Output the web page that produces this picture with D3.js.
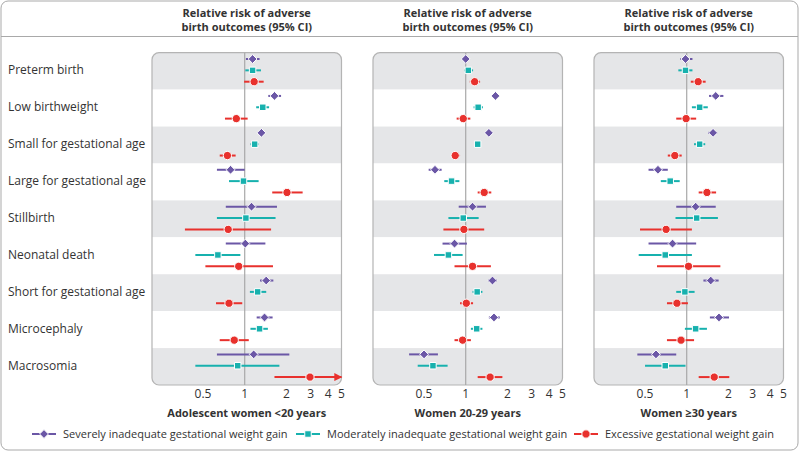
<!DOCTYPE html>
<html><head><meta charset="utf-8">
<script src="https://cdn.jsdelivr.net/npm/d3@7"></script>
<style>body{margin:0;background:#fff} text{font-family:"Open Sans",sans-serif;fill:#333}</style>
</head><body><svg id="c" width="800" height="452"></svg>
<script>
const categories = ["Preterm birth","Low birthweight","Small for gestational age","Large for gestational age","Stillbirth","Neonatal death","Short for gestational age","Microcephaly","Macrosomia"];
const groups = ["Adolescent women <20 years","Women 20-29 years","Women ≥30 years"];
const seriesNames = ["Severely inadequate gestational weight gain","Moderately inadequate gestational weight gain","Excessive gestational weight gain"];
const seriesColors = ["#6b57a6","#17b1ae","#e8312d"];
const seriesShapes = ["diamond","square","circle"];
const tickValues = [0.5,1,2,3,4,5];
const headerLines = ["Relative risk of adverse","birth outcomes (95% CI)"];
// [estimate, lower 95% CI, upper 95% CI] per category
const teenSevere   = [[1.14,1.02,1.28],[1.64,1.48,1.83],[1.32,1.28,1.36],[0.79,0.63,1.00],[1.12,0.73,1.71],[1.01,0.73,1.41],[1.43,1.29,1.61],[1.39,1.22,1.59],[1.16,0.63,2.10]];
const teenModerate = [[1.14,1.01,1.31],[1.35,1.21,1.50],[1.18,1.10,1.26],[0.98,0.77,1.26],[1.02,0.63,1.67],[0.64,0.44,0.93],[1.24,1.09,1.43],[1.28,1.10,1.47],[0.89,0.44,1.78]];
const teenExcess   = [[1.17,0.99,1.37],[0.87,0.72,1.05],[0.75,0.66,0.86],[2.02,1.58,2.62],[0.76,0.37,1.55],[0.905,0.52,1.60],[0.77,0.62,0.96],[0.84,0.66,1.07],[2.96,1.64,6.00]];
const midSevere    = [[1.00,0.98,1.02],[1.64,1.60,1.68],[1.47,1.43,1.52],[0.60,0.54,0.67],[1.12,0.89,1.40],[0.83,0.68,1.02],[1.56,1.45,1.68],[1.60,1.47,1.76],[0.50,0.39,0.63]];
const midModerate  = [[1.045,0.98,1.13],[1.23,1.14,1.33],[1.22,1.20,1.24],[0.79,0.70,0.90],[0.96,0.75,1.24],[0.75,0.59,0.95],[1.21,1.12,1.32],[1.20,1.09,1.32],[0.58,0.45,0.74]];
const midExcess    = [[1.16,1.07,1.27],[0.96,0.86,1.08],[0.84,0.79,0.91],[1.36,1.22,1.53],[0.97,0.69,1.36],[1.12,0.83,1.52],[1.01,0.91,1.13],[0.95,0.83,1.09],[1.50,1.22,1.84]];
const olderSevere  = [[0.98,0.90,1.10],[1.62,1.45,1.84],[1.55,1.43,1.66],[0.62,0.53,0.73],[1.16,0.84,1.62],[0.79,0.53,1.17],[1.49,1.32,1.70],[1.71,1.47,2.02],[0.60,0.44,0.84]];
const olderModerate= [[0.98,0.87,1.10],[1.24,1.09,1.42],[1.24,1.13,1.36],[0.76,0.65,0.89],[1.18,0.83,1.68],[0.70,0.45,1.09],[0.97,0.84,1.14],[1.16,0.97,1.40],[0.70,0.50,0.98]];
const olderExcess  = [[1.21,1.07,1.37],[0.99,0.84,1.17],[0.82,0.73,0.92],[1.40,1.22,1.63],[0.71,0.46,1.09],[1.03,0.61,1.75],[0.85,0.72,1.02],[0.91,0.72,1.13],[1.58,1.22,2.03]];
const groupData = [[teenSevere,teenModerate,teenExcess],[midSevere,midModerate,midExcess],[olderSevere,olderModerate,olderExcess]];

const svg = d3.select("#c");
const W = 800, H = 452;
svg.append("rect").attr("x",1).attr("y",1).attr("width",W-3).attr("height",H-3)
  .attr("rx",7).attr("fill","#fff").attr("stroke","#a9a9a9").attr("stroke-width",1);
svg.append("line").attr("x1",1).attr("x2",W-2).attr("y1",36.5).attr("y2",36.5).attr("stroke","#a9a9a9");

const panelLeft = [152, 373, 594];
const panelW = 189.5;
const pTop = 52.7, pBottom = 385;
const x = d3.scaleLog().domain([0.214, 5]).range([0, panelW]);
const y = d3.scaleBand().domain(categories).range([pTop, pBottom]);
const inner = d3.scalePoint().domain(seriesNames).range([6.3, 29]);

const defs = svg.append("defs");
seriesColors.forEach((c,i)=>{
  defs.append("marker").attr("id","arr"+i).attr("viewBox","0 0 10 10").attr("refX",9).attr("refY",5)
    .attr("markerWidth",4).attr("markerHeight",4).attr("orient","auto")
    .append("path").attr("d","M0,0L10,5L0,10Z").attr("fill",c);
});

svg.append("g").selectAll("text").data(categories).join("text")
  .attr("x",8).attr("y",d=>y(d)+y.bandwidth()/2-1).attr("dy","0.35em")
  .style("font-size","12px").text(d=>d);

function shapePath(shape){
  if(shape==="diamond") return d3.symbol(d3.symbolDiamond2 || d3.symbolDiamond, 50)();
  if(shape==="square") return d3.symbol(d3.symbolSquare, 42)();
  return d3.symbol(d3.symbolCircle, 54)();
}

groups.forEach((g,gi)=>{
  const px = panelLeft[gi];
  const G = svg.append("g").attr("transform",`translate(${px},0)`);
  const cid = "clip"+gi;
  defs.append("clipPath").attr("id",cid).append("rect")
    .attr("x",0).attr("y",pTop).attr("width",panelW).attr("height",pBottom-pTop).attr("rx",7);
  const bg = G.append("g").attr("clip-path",`url(#${cid})`);
  bg.selectAll("rect").data(categories).join("rect")
    .attr("x",0).attr("y",d=>y(d)).attr("width",panelW).attr("height",y.bandwidth())
    .attr("fill",(d,i)=>i%2===0?"#e5e6e8":"#fff");
  G.append("rect").attr("x",0).attr("y",pTop).attr("width",panelW).attr("height",pBottom-pTop).attr("rx",7)
    .attr("fill","none").attr("stroke","#b4b4b4").attr("stroke-width",1.2);
  G.append("line").attr("x1",x(1)).attr("x2",x(1)).attr("y1",pTop).attr("y2",pBottom)
    .attr("stroke","#a8a8a8").attr("stroke-width",1.2);
  G.append("g").selectAll("text").data(tickValues).join("text")
    .attr("x",d=>x(d)).attr("y",398).attr("text-anchor","middle")
    .style("font-size","12px").text(d=>d);
  G.append("text").attr("x",panelW/2).attr("y",417).attr("text-anchor","middle")
    .style("font-size","11px").style("font-weight","700").attr("fill","#222").text(g);
  headerLines.forEach((t,li)=>{
    G.append("text").attr("x",panelW/2).attr("y",17+li*13.5).attr("text-anchor","middle")
      .style("font-size","11px").style("font-weight","700").text(t);
  });
  const maxV = x.domain()[1];
  groupData[gi].forEach((ser,si)=>{
    const col = seriesColors[si];
    const sg = G.append("g");
    ser.forEach((v,ci)=>{
      const yy = y(categories[ci]) + inner(seriesNames[si]);
      const over = v[2] > maxV;
      const ln = sg.append("line").attr("x1",x(v[1])).attr("x2",over? x(maxV) : x(v[2]))
        .attr("y1",yy).attr("y2",yy).attr("stroke",col).attr("stroke-width",2);
      if(over) ln.attr("marker-end",`url(#arr${si})`);
      sg.append("path").attr("d",shapePath(seriesShapes[si]))
        .attr("transform",`translate(${x(v[0])},${yy})`)
        .attr("fill",col).attr("stroke","#fff").attr("stroke-width",1);
    });
  });
});

const legendX = [32, 296, 574];
const legend = svg.append("g");
seriesNames.forEach((s,i)=>{
  const lx = legendX[i], ly = 434;
  legend.append("line").attr("x1",lx).attr("x2",lx+24).attr("y1",ly).attr("y2",ly)
    .attr("stroke",seriesColors[i]).attr("stroke-width",2);
  legend.append("path").attr("d",shapePath(seriesShapes[i]))
    .attr("transform",`translate(${lx+12},${ly})`).attr("fill",seriesColors[i])
    .attr("stroke","#fff").attr("stroke-width",1);
  legend.append("text").attr("x",lx+31).attr("y",ly).attr("dy","0.35em")
    .style("font-size","11px").text(s);
});
</script></body></html>
